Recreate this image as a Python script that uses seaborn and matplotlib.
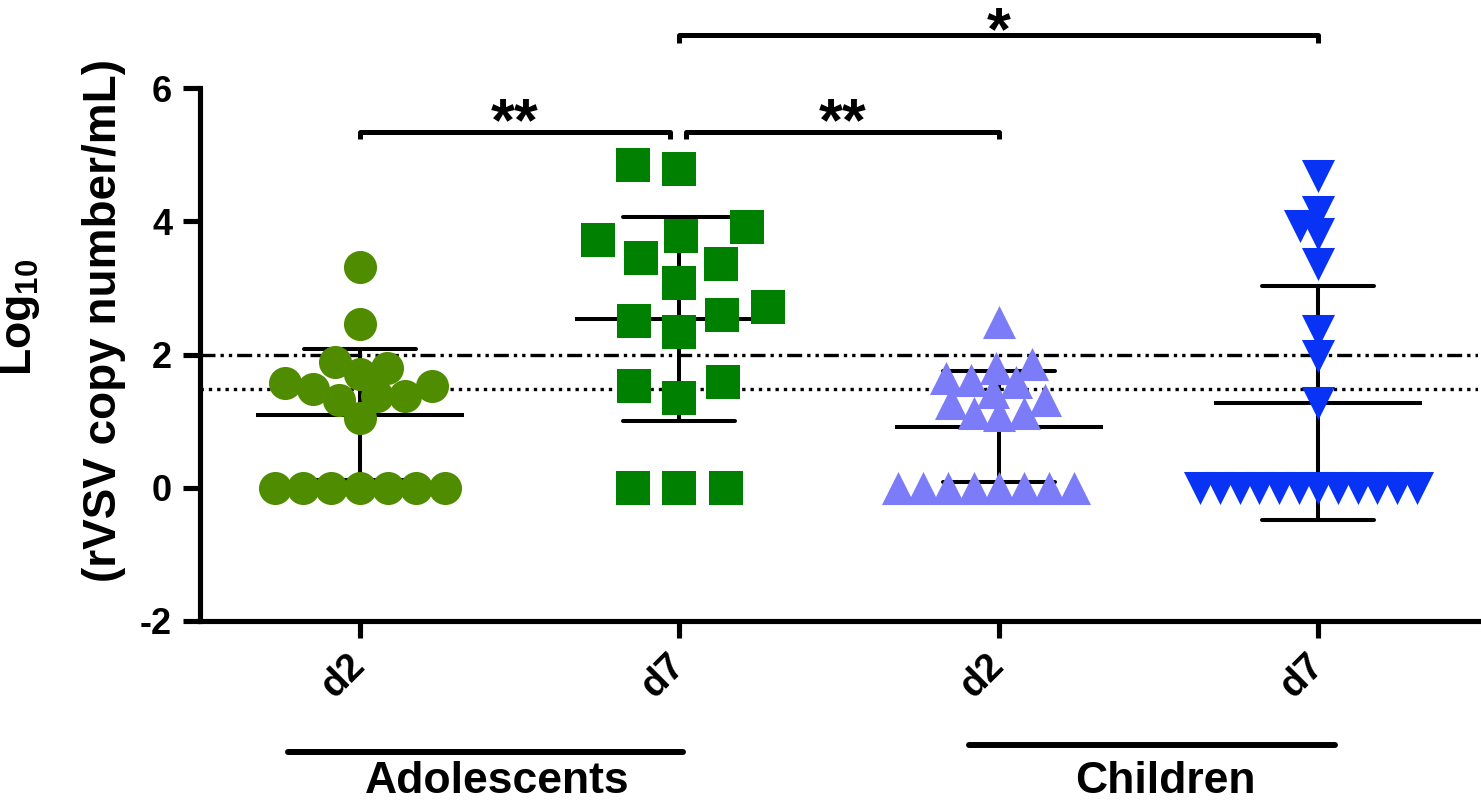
import matplotlib
matplotlib.use("Agg")
import numpy as np
import pandas as pd
import seaborn as sns
import matplotlib.pyplot as plt

# ---------------- data ----------------
categories = ["Adolescents d2", "Adolescents d7", "Children d2", "Children d7"]
tick_labels = ["d2", "d7", "d2", "d7"]

adolescents_d2 = [3.31, 2.46, 1.89, 1.80, 1.70, 1.57, 1.52, 1.48, 1.37, 1.37,
                  1.32, 1.05, 0, 0, 0, 0, 0, 0, 0]
adolescents_d7 = [4.85, 4.78, 3.92, 3.78, 3.72, 3.45, 3.36, 3.07, 2.72, 2.60,
                  2.50, 2.34, 1.58, 1.52, 1.35, 0, 0, 0]
children_d2 = [2.49, 1.86, 1.80, 1.65, 1.62, 1.58, 1.44, 1.32, 1.27, 1.12,
               1.12, 1.09, 0, 0, 0, 0, 0, 0, 0, 0]
children_d7 = [4.68, 4.14, 3.93, 3.81, 3.36, 2.36, 1.97, 1.27,
               0, 0, 0, 0, 0, 0, 0, 0, 0, 0, 0, 0]

upper_limit_line = 2.0      # dash-dot-dot reference line
detection_limit_line = 1.48  # dotted reference line

comparisons = [("Adolescents d2", "Adolescents d7", "**"),
               ("Adolescents d7", "Children d2", "**"),
               ("Adolescents d7", "Children d7", "*")]
age_groups = ["Adolescents", "Children"]

# ---------------- styling ----------------
colors = ["#4F8C00", "#008000", "#7C7CF8", "#0833F5"]
markers = ["o", "s", "^", "v"]
swarm_sizes = [19.4, 32.0, 17.3, 13.5]   # spacing used to lay out the swarm (pt)
display_size = 23.8                       # drawn marker size (pt)

sns.set_style("ticks")
plt.rcParams["font.family"] = ["Liberation Sans", "DejaVu Sans"]
plt.rcParams["font.weight"] = "bold"
plt.rcParams["axes.unicode_minus"] = False
plt.rcParams["mathtext.fontset"] = "custom"
plt.rcParams["mathtext.rm"] = "Liberation Sans:bold"
plt.rcParams["mathtext.bf"] = "Liberation Sans:bold"
plt.rcParams["mathtext.default"] = "rm"
for key in ["text.color", "axes.labelcolor", "xtick.color", "ytick.color",
            "xtick.labelcolor", "ytick.labelcolor", "axes.edgecolor"]:
    plt.rcParams[key] = "black"

values = [adolescents_d2, adolescents_d7, children_d2, children_d7]
df = pd.DataFrame({
    "group": np.concatenate([[c] * len(v) for c, v in zip(categories, values)]),
    "value": np.concatenate(values).astype(float),
})

W, H = 1481, 800
fig = plt.figure(figsize=(W / 100, H / 100), dpi=100)
ax = fig.add_axes([200 / W, 179 / H, 1278 / W, 533 / H])

for cat, col, mk, sz in zip(categories, colors, markers, swarm_sizes):
    sns.swarmplot(data=df[df["group"] == cat], x="group", y="value",
                  order=categories, color=col, marker=mk, size=sz,
                  linewidth=0, ax=ax, warn_thresh=1)

sns.pointplot(data=df, x="group", y="value", order=categories,
              errorbar="sd", capsize=0.35, color="black",
              linestyle="none", marker="_", markersize=150,
              markeredgewidth=2.9, err_kws={"linewidth": 2.9}, ax=ax)

ax.axhline(upper_limit_line, color="black", lw=2.4,
           linestyle=(0, (4.5, 1.5, 1, 1.5, 1, 1.5)))
ax.axhline(detection_limit_line, color="black", lw=2.4,
           linestyle=(0, (1, 1.5)))

ax.set_xlim(-0.5, 3.5)
ax.set_ylim(-2, 6)
ax.set_yticks([-2, 0, 2, 4, 6])
ax.set_xticks(range(4))
ax.set_xticklabels(tick_labels)
ax.set_xlabel("")
ax.set_ylabel("")
sns.despine(ax=ax)
for side in ["left", "bottom"]:
    ax.spines[side].set_linewidth(3.7)
    ax.spines[side].set_color("black")
ax.tick_params(axis="both", direction="out", length=12, width=3.7,
               color="black", labelcolor="black")
ax.tick_params(axis="y", labelsize=26, pad=8)
ax.tick_params(axis="x", labelsize=28, pad=16)
plt.setp(ax.get_xticklabels(), rotation=45, ha="right", va="center",
         rotation_mode="anchor", fontweight="bold")
plt.setp(ax.get_yticklabels(), fontweight="bold")

# compute swarm layout, then draw the markers at full size
fig.canvas.draw()
for coll in ax.collections:
    if "draw" in coll.__dict__:
        del coll.draw
    coll.set_sizes([display_size ** 2])

# significance brackets
pos = {c: i for i, c in enumerate(categories)}
bracket_levels = [5.34, 5.34, 6.79]
end_offsets = [(0.0, -0.03), (0.02, 0.0), (0.0, 0.0)]
star_offsets = [-0.12, -0.12, -0.2]
for (a, b, star), lvl, (oa, ob), so in zip(comparisons, bracket_levels,
                                           end_offsets, star_offsets):
    xa, xb = pos[a] + oa, pos[b] + ob
    ax.plot([xa, xa, xb, xb], [lvl - 0.11, lvl, lvl, lvl - 0.11],
            color="black", lw=3.6, clip_on=False, solid_capstyle="butt")
    ax.text((xa + xb) / 2, lvl + so, star, ha="center", va="baseline",
            fontsize=44, fontweight="bold", clip_on=False)

# age-group lines and labels below the axis
xt = ax.get_xaxis_transform()
group_spans = [(-0.226, 1.013), (1.908, 3.053)]
group_line_y = [-0.246, -0.233]
group_label_x = [0.43, 2.52]
for name, (x0, x1), ly, lx in zip(age_groups, group_spans, group_line_y, group_label_x):
    ax.plot([x0, x1], [ly, ly], color="black", lw=4.3, transform=xt,
            clip_on=False, solid_capstyle="round")
    ax.text(lx, -0.322, name, transform=xt, ha="center", va="baseline",
            fontsize=32, fontweight="bold")

# y-axis label (two lines)
fig.text(31 / W, 1 - 317 / H, "Log$_{10}$", rotation=90, rotation_mode="anchor",
         ha="center", va="baseline", fontsize=32, fontweight="bold")
fig.text(116 / W, 1 - 321 / H, "(rVSV copy number/mL)", rotation=90,
         rotation_mode="anchor", ha="center", va="baseline", fontsize=33,
         fontweight="bold")

fig.savefig("out.png", dpi=100)
